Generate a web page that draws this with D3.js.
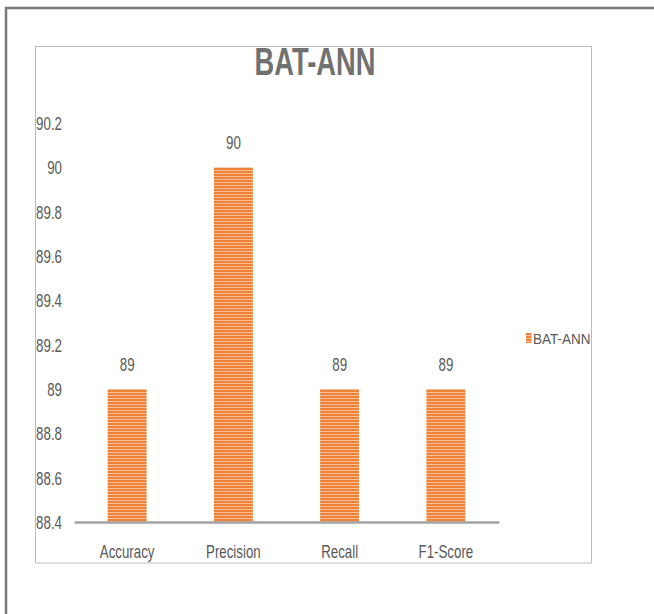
<!DOCTYPE html>
<html>
<head>
<meta charset="utf-8">
<script src="https://cdn.jsdelivr.net/npm/d3@7"></script>
<style>
  html, body { margin: 0; padding: 0; background: #fff; }
  svg { display: block; }
</style>
</head>
<body>
<svg id="chart" width="654" height="614"></svg>
<script>
// Chart data
const categories = ["Accuracy", "Precision", "Recall", "F1-Score"];
const seriesName = "BAT-ANN";
const values = [89, 90, 89, 89];
const yTicks = [88.4, 88.6, 88.8, 89, 89.2, 89.4, 89.6, 89.8, 90, 90.2];
const chartTitle = "BAT-ANN";

const svg = d3.select("#chart");
const FONT = "'Liberation Sans', Arial, sans-serif";
const SX = 0.74; // narrow glyph width

// Striped orange fill for the bars
const defs = svg.append("defs");
const pat = defs.append("pattern")
  .attr("id", "stripes")
  .attr("patternUnits", "userSpaceOnUse")
  .attr("width", 8).attr("height", 3);
pat.append("rect").attr("width", 8).attr("height", 3).attr("fill", "#ee8239");
pat.append("rect").attr("y", 2).attr("width", 8).attr("height", 1).attr("fill", "#f7bd95");

defs.append("clipPath").attr("id", "boxClip")
  .append("rect").attr("x", 35).attr("y", 46).attr("width", 556.5).attr("height", 517);

// Outer frame (top and left edges)
svg.append("path")
  .attr("d", "M6,614 V8 H654")
  .attr("fill", "none")
  .attr("stroke", "#7a7a7a")
  .attr("stroke-width", 2.5);

// Chart area border
svg.append("rect")
  .attr("x", 35.5).attr("y", 46.5)
  .attr("width", 556).attr("height", 516.5)
  .attr("fill", "#fff")
  .attr("stroke", "#bdbdbd")
  .attr("stroke-width", 1);

const g = svg.append("g").attr("clip-path", "url(#boxClip)");

// Scales
const x = d3.scaleBand()
  .domain(categories)
  .range([74, 499])
  .paddingInner(0.633)
  .paddingOuter(0.3165);

const y = d3.scaleLinear()
  .domain([88.4, 90.2])
  .range([522, 123]);

// Narrow text helper: places text at (px, py) and compresses it horizontally
function narrowText(sel, px, py, sx) {
  sel.attr("x", 0).attr("y", 0)
     .attr("transform", `translate(${px},${py}) scale(${sx},1)`);
}

// Y axis labels
const yAxis = d3.axisLeft(y)
  .tickValues(yTicks)
  .tickSize(0)
  .tickPadding(0)
  .tickFormat(d => d3.format("~g")(d));

const yg = g.append("g").attr("transform", "translate(62,0)").call(yAxis);
yg.select(".domain").remove();
yg.selectAll(".tick text")
  .attr("x", 0)
  .attr("dy", "0.36em")
  .attr("transform", `scale(${SX},1)`)
  .attr("fill", "#595959")
  .attr("font-family", FONT)
  .attr("font-size", 18)
  .attr("text-anchor", "end");

// Bars
g.selectAll("rect.bar")
  .data(values)
  .join("rect")
  .attr("class", "bar")
  .attr("x", (d, i) => x(categories[i]))
  .attr("y", d => y(d))
  .attr("width", x.bandwidth())
  .attr("height", d => y(88.4) - y(d))
  .attr("fill", "url(#stripes)");

// Category axis line and labels
const xAxis = d3.axisBottom(x).tickSize(0).tickPadding(0);
const xg = g.append("g").attr("transform", "translate(0,522)").call(xAxis);
xg.select(".domain")
  .attr("stroke", "#a3a3a3")
  .attr("stroke-width", 2.5);
xg.selectAll(".tick text")
  .attr("y", 0).attr("dy", 0)
  .attr("transform", `translate(0,36) scale(${SX},1)`)
  .attr("fill", "#595959")
  .attr("font-family", FONT)
  .attr("font-size", 18)
  .attr("text-anchor", "middle");

// Value labels
g.selectAll("text.val")
  .data(values)
  .join("text")
  .attr("class", "val")
  .attr("fill", "#595959")
  .attr("font-family", FONT)
  .attr("font-size", 18)
  .attr("text-anchor", "middle")
  .text(d => d)
  .each(function (d, i) {
    narrowText(d3.select(this), x(categories[i]) + x.bandwidth() / 2, y(d) - 18, SX);
  });

// Title
g.append("text")
  .attr("fill", "#717171")
  .attr("font-family", FONT)
  .attr("font-weight", "bold")
  .attr("font-size", 39)
  .attr("text-anchor", "middle")
  .text(chartTitle)
  .call(s => narrowText(s, 315, 75, 0.70));

// Legend
const lg = g.append("g");
lg.append("rect")
  .attr("x", 526).attr("y", 333)
  .attr("width", 5.5).attr("height", 10)
  .attr("fill", "url(#stripes)");
lg.append("text")
  .attr("fill", "#595959")
  .attr("font-family", FONT)
  .attr("font-size", 15)
  .text(seriesName)
  .call(s => narrowText(s, 533, 343.5, 0.9));
</script>
</body>
</html>
